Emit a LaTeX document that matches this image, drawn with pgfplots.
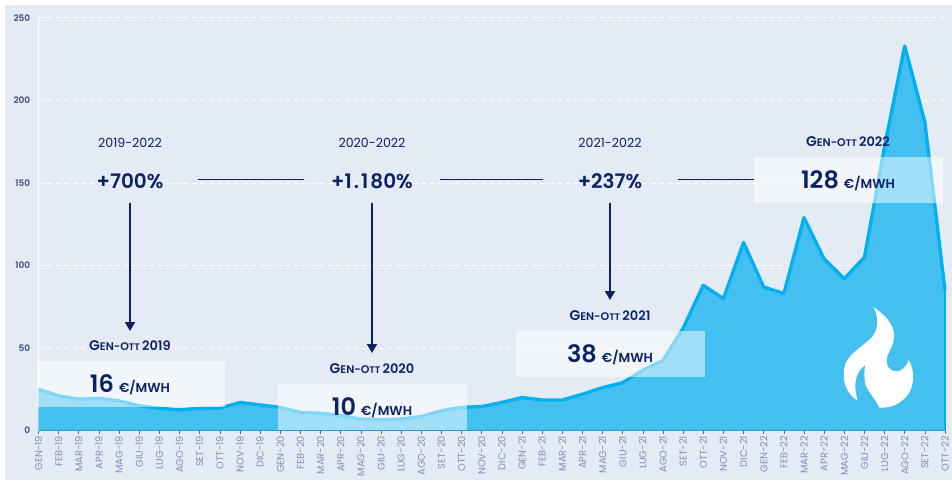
\documentclass[border=0pt]{standalone}
\usepackage{pgfplots}
\pgfplotsset{compat=1.18}
\usepackage{pgfplotstable}
\usepackage{fontspec}
\setmainfont{Poppins}[BoldFont={Poppins SemiBold}]
\usetikzlibrary{arrows.meta}
\definecolor{bgc}{HTML}{E5EBF4}
\definecolor{navy}{HTML}{0A2266}
\definecolor{areac}{HTML}{43C0F0}
\definecolor{linec}{HTML}{00B0F0}
\definecolor{tickc}{HTML}{7F90B4}
\definecolor{ytickc}{HTML}{3D4F85}
\newcommand{\gen}[1]{{\fontsize{14}{14}\selectfont G\fontsize{11}{11}\selectfont EN-O\fontsize{9.5}{11}\selectfont TT \fontsize{13}{14}\selectfont #1}}
\newcommand{\val}[1]{{\fontsize{24}{26}\selectfont #1}\hspace{5pt}{\fontsize{13}{14}\selectfont €/MWH}}
\pgfplotstableread{
x y
0 25
1 21
2 19
3 19.5
4 18
5 15
6 13.5
7 12.5
8 13.5
9 13.5
10 17
11 15.5
12 14
13 11
14 10.5
15 9
16 7
17 6.5
18 7
19 8.5
20 12
21 14
22 14.5
23 17
24 20
25 18.5
26 18.5
27 22
28 26
29 29
30 36.5
31 42.5
32 62
33 88
34 80
35 114
36 87
37 83
38 129
39 104
40 92
41 105
42 172
43 233
44 187
45 85
}\pricedata
\begin{document}
\begin{tikzpicture}[x=1pt,y=1pt]
\path[use as bounding box] (0,0) rectangle (952,480);
\fill[white] (0,0) rectangle (952,480);
\fill[bgc] (5,0) rectangle (952,475);
\begin{axis}[
  at={(38.5pt,49.5pt)}, anchor=south west,
  scale only axis, width=906.5pt, height=412.5pt,
  xmin=0, xmax=45, ymin=0, ymax=250,
  clip=false,
  axis x line*=bottom, axis y line*=left,
  axis line style={-},
  x axis line style={draw=navy!70!linec, line width=1.5pt},
  y axis line style={draw=white, line width=1pt},
  ytick={0,50,100,150,200,250},
  ymajorgrids,
  grid style={white, dashed, line width=1pt, dash pattern=on 5pt off 3.5pt},
  xtick={0,...,45},
  xticklabels={GEN-19,FEB-19,MAR-19,APR-19,MAG-19,GIU-19,LUG-19,AGO-19,SET-19,OTT-19,NOV-19,DIC-19,GEN-20,FEB-20,MAR-20,APR-20,MAG-20,GIU-20,LUG-20,AGO-20,SET-20,OTT-20,NOV-20,DIC-20,GEN-21,FEB-21,MAR-21,APR-21,MAG-21,GIU-21,LUG-21,AGO-21,SET-21,OTT-21,NOV-21,DIC-21,GEN-22,FEB-22,MAR-22,APR-22,MAG-22,GIU-22,LUG-22,AGO-22,SET-22,OTT-22},
  x tick label style={rotate=90, anchor=east, font=\fontsize{9.8}{10}\selectfont, text=tickc, inner sep=1pt, xshift=-1.5pt},
  y tick label style={font=\fontsize{9}{9}\selectfont\bfseries, text=ytickc, inner sep=1pt, xshift=-4pt},
  /pgf/number format/assume math mode=true,
  x tick style={draw=navy!70, line width=0.6pt},
  y tick style={draw=none},
  major tick length=3pt,
  tick align=outside,
]
\addplot[fill=areac, draw=none] table[x=x,y=y] {\pricedata} \closedcycle;
\addplot[draw=linec, line width=3.3pt, line join=round] table[x=x,y=y] {\pricedata};
\draw[linec, line width=2.5pt] (axis cs:45,85) -- (axis cs:45,0);
\end{axis}
\begin{scope}[yshift=480pt,y=-1pt]
% boxes
\fill[white,opacity=.5] (37,361) rectangle (225,407);
\fill[white,opacity=.5] (278,384) rectangle (467,430);
\fill[white,opacity=.5] (516,331) rectangle (705,377);
\fill[white,opacity=.5] (754,157) rectangle (943,203);
% connectors
\draw[navy,line width=.9pt] (198,179.5)--(304,179.5) (440,179.5)--(543,179.5) (678,179.5)--(754,179.5);
\foreach \x/\y in {130/331,372/353,610/300}
  \draw[navy,line width=1.8pt,-{Triangle[length=9pt,width=10pt]}] (\x,203)--(\x,\y);
% texts
\tikzset{lab/.style={text=navy,inner sep=0pt,anchor=center}}
\foreach \x/\t in {130/2019-2022,372/2020-2022,610/2021-2022}
  \node[lab,font=\fontsize{12.6}{13}\selectfont] at (\x,142.5) {\t};
\node[lab,font=\fontsize{20}{20}\selectfont\bfseries] at (130,181) {+700\%};
\node[lab,font=\fontsize{20}{20}\selectfont\bfseries] at (372,181) {+1\hspace{2pt}.\hspace{2pt}1\hspace{2pt}80\%};
\node[lab,font=\fontsize{20}{20}\selectfont\bfseries] at (610,181) {+237\%};
\node[lab,font=\bfseries] at (130,346) {\gen{2019}};
\node[lab,font=\bfseries] at (372,369) {\gen{2020}};
\node[lab,font=\bfseries] at (610,316) {\gen{2021}};
\node[lab,font=\bfseries] at (848,142) {\gen{2022}};
\node[lab,font=\bfseries] at (130,384.5) {\val{16}};
\node[lab,font=\bfseries] at (372,407.5) {\val{10}};
\node[lab,font=\bfseries] at (610,354.5) {\val{38}};
\node[lab,font=\bfseries] at (848,180.5) {\val{128}};
% flame
\fill[white] (873.7,307.3)
 .. controls (890,318) and (896,330) .. (893.7,340)
 .. controls (892,350) and (885,355) .. (887,364)
 .. controls (889,373) and (903,376) .. (908.7,360)
 .. controls (916,372) and (914,390) .. (905,398)
 .. controls (897,406) and (888,408) .. (879.3,407.7)
 .. controls (875,398) and (868,392) .. (865.3,384)
 .. controls (864,376) and (864,372) .. (865.3,365)
 .. controls (855,372) and (853,385) .. (857.7,400.7)
 .. controls (846,394) and (842,380) .. (844.3,368)
 .. controls (846,356) and (860,348) .. (868,341)
 .. controls (878,333) and (880,320) .. (873.7,307.3) -- cycle;
\end{scope}
\end{tikzpicture}
\end{document}
